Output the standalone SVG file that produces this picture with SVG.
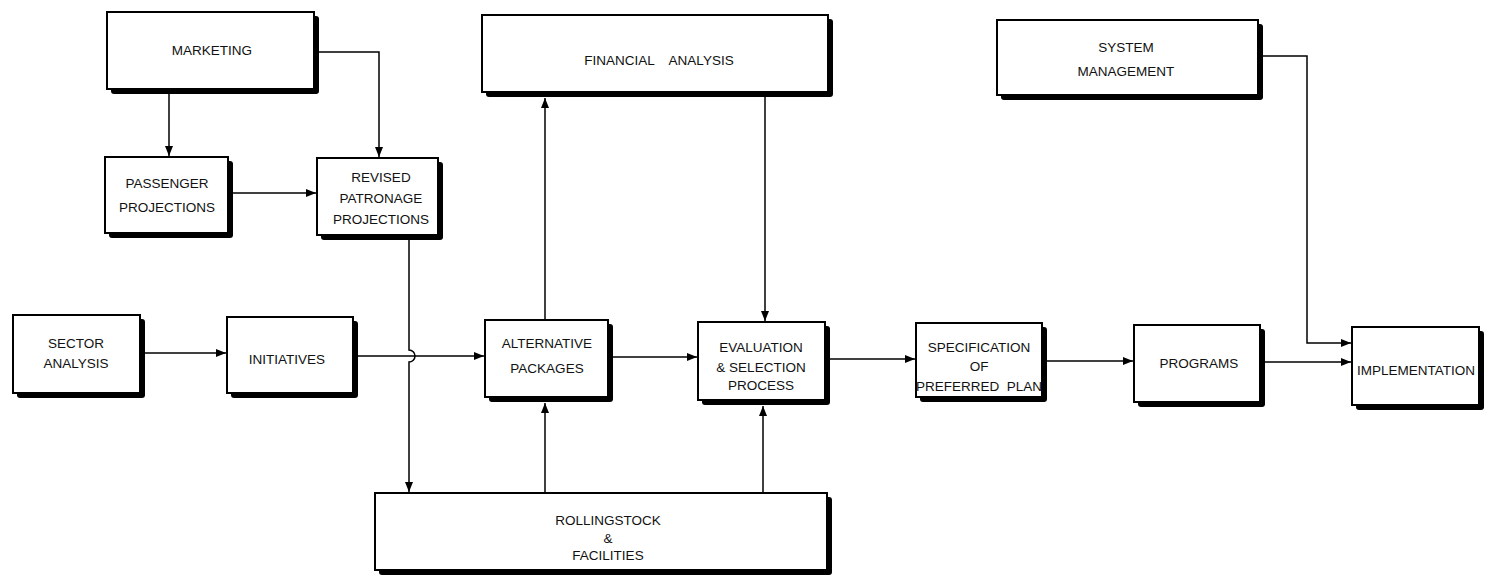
<svg xmlns="http://www.w3.org/2000/svg" width="1487" height="578" viewBox="0 0 1487 578">
<style>
.sh{fill:#000}
.bx{fill:#fff;stroke:#000;stroke-width:2}
.t{font-family:"Liberation Sans",Arial,sans-serif;font-size:13.5px;fill:#111;text-anchor:middle}
.c{fill:none;stroke:#000;stroke-width:1.5}
</style>
<defs>
<marker id="ah" markerUnits="userSpaceOnUse" markerWidth="10" markerHeight="8" refX="10" refY="4" orient="auto">
<path d="M0,0 L10,4 L0,8 z" fill="#000"/>
</marker>
</defs>
<rect width="1487" height="578" fill="#fff"/>

<g id="connectors">
<path class="c" d="M169,94 V156" marker-end="url(#ah)"/>
<path class="c" d="M319,52 H379 V157" marker-end="url(#ah)"/>
<path class="c" d="M233,193 H316" marker-end="url(#ah)"/>
<path class="c" d="M409,240 V350 A6,6 0 0 1 409,362 V492" marker-end="url(#ah)"/>
<path class="c" d="M145,353 H226" marker-end="url(#ah)"/>
<path class="c" d="M358,356 H484" marker-end="url(#ah)"/>
<path class="c" d="M545,320 V98" marker-end="url(#ah)"/>
<path class="c" d="M765,97 V321" marker-end="url(#ah)"/>
<path class="c" d="M613,357 H697" marker-end="url(#ah)"/>
<path class="c" d="M545,493 V403" marker-end="url(#ah)"/>
<path class="c" d="M763,493 V406" marker-end="url(#ah)"/>
<path class="c" d="M830,359 H915" marker-end="url(#ah)"/>
<path class="c" d="M1047,361 H1133" marker-end="url(#ah)"/>
<path class="c" d="M1265,362 H1351" marker-end="url(#ah)"/>
<path class="c" d="M1263,56 H1307 V343 H1351" marker-end="url(#ah)"/>
</g>

<g id="marketing">
<rect class="sh" x="111" y="16" width="208" height="78" rx="3"/>
<rect class="bx" x="107" y="12" width="207" height="77"/>
<text class="t" x="212" y="55">MARKETING</text>
</g>

<g id="passenger">
<rect class="sh" x="109" y="161" width="124" height="77" rx="3"/>
<rect class="bx" x="105" y="157" width="123" height="76"/>
<text class="t" x="167" y="188">PASSENGER</text>
<text class="t" x="167" y="212">PROJECTIONS</text>
</g>

<g id="revised">
<rect class="sh" x="321" y="162" width="122" height="78" rx="3"/>
<rect class="bx" x="317" y="158" width="121" height="77"/>
<text class="t" x="381" y="182">REVISED</text>
<text class="t" x="381" y="203">PATRONAGE</text>
<text class="t" x="381" y="224">PROJECTIONS</text>
</g>

<g id="financial">
<rect class="sh" x="486" y="19" width="347" height="78" rx="3"/>
<rect class="bx" x="482" y="15" width="346" height="77"/>
<text class="t" x="659" y="65" xml:space="preserve">FINANCIAL    ANALYSIS</text>
</g>

<g id="system">
<rect class="sh" x="1001" y="24" width="262" height="76" rx="3"/>
<rect class="bx" x="997" y="20" width="261" height="75"/>
<text class="t" x="1126" y="52">SYSTEM</text>
<text class="t" x="1126" y="76">MANAGEMENT</text>
</g>

<g id="sector">
<rect class="sh" x="17" y="319" width="128" height="79" rx="3"/>
<rect class="bx" x="13" y="315" width="127" height="78"/>
<text class="t" x="76" y="348">SECTOR</text>
<text class="t" x="76" y="368">ANALYSIS</text>
</g>

<g id="initiatives">
<rect class="sh" x="231" y="321" width="127" height="77" rx="3"/>
<rect class="bx" x="227" y="317" width="126" height="76"/>
<text class="t" x="287" y="364">INITIATIVES</text>
</g>

<g id="alternative">
<rect class="sh" x="489" y="324" width="124" height="78" rx="3"/>
<rect class="bx" x="485" y="320" width="123" height="77"/>
<text class="t" x="547" y="348">ALTERNATIVE</text>
<text class="t" x="547" y="373">PACKAGES</text>
</g>

<g id="evaluation">
<rect class="sh" x="702" y="326" width="128" height="79" rx="3"/>
<rect class="bx" x="698" y="322" width="127" height="78"/>
<text class="t" x="761" y="352">EVALUATION</text>
<text class="t" x="761" y="372">&amp; SELECTION</text>
<text class="t" x="761" y="390">PROCESS</text>
</g>

<g id="specification">
<rect class="sh" x="920" y="327" width="127" height="75" rx="3"/>
<rect class="bx" x="916" y="323" width="126" height="74"/>
<text class="t" x="979" y="352">SPECIFICATION</text>
<text class="t" x="979" y="371">OF</text>
<text class="t" x="979" y="391" xml:space="preserve">PREFERRED  PLAN</text>
</g>

<g id="programs">
<rect class="sh" x="1138" y="329" width="127" height="78" rx="3"/>
<rect class="bx" x="1134" y="325" width="126" height="77"/>
<text class="t" x="1199" y="368">PROGRAMS</text>
</g>

<g id="implementation">
<rect class="sh" x="1356" y="331" width="128" height="79" rx="3"/>
<rect class="bx" x="1352" y="327" width="127" height="78"/>
<text class="t" x="1416" y="375">IMPLEMENTATION</text>
</g>

<g id="rollingstock">
<rect class="sh" x="379" y="497" width="453" height="78" rx="3"/>
<rect class="bx" x="375" y="493" width="452" height="77"/>
<text class="t" x="608" y="525">ROLLINGSTOCK</text>
<text class="t" x="608" y="543">&amp;</text>
<text class="t" x="608" y="560">FACILITIES</text>
</g>
</svg>
